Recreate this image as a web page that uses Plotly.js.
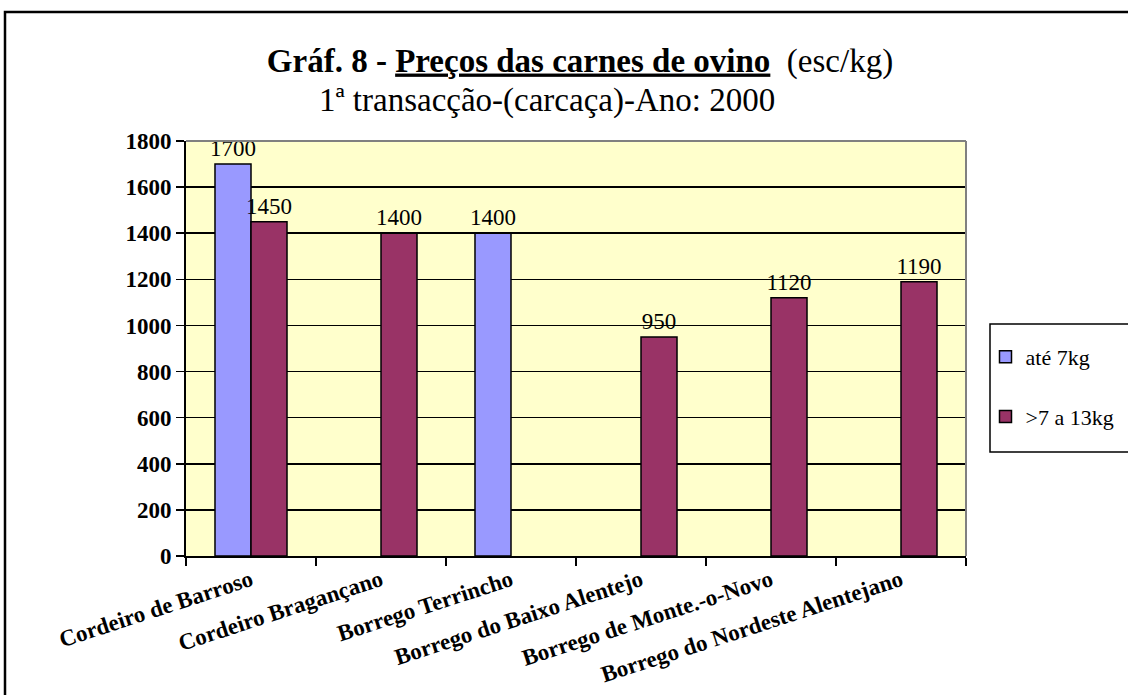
<script src="https://cdn.plot.ly/plotly-3.0.1.min.js"></script>
<style>
  body { margin: 0; background: #fff; }
  #chart { width: 1128px; height: 695px; }
</style>
<div id="chart"></div>
<script>
// values (esc/kg)
const categories = [
  "Cordeiro de Barroso",
  "Cordeiro Bragançano",
  "Borrego Terrincho",
  "Borrego do Baixo Alentejo",
  "Borrego de Monte.-o-Novo",
  "Borrego do Nordeste Alentejano"
];
const ate7kg = [1700, null, 1400, null, null, null];
const de7a13kg = [1450, 1400, null, 950, 1120, 1190];
const seriesNames = ["até 7kg", ">7 a 13kg"];
const yTicks = [0, 200, 400, 600, 800, 1000, 1200, 1400, 1600, 1800];

const serif = 'Liberation Serif, Times New Roman, serif';

function barTrace(name, values, color, group) {
  return {
    type: 'bar',
    name: name,
    x: categories,
    y: values,
    legendgroup: group,
    marker: { color: color, line: { color: '#000', width: 1.5 } },
    text: values.map(v => v === null ? '' : String(v)),
    textposition: 'outside',
    constraintext: 'none',
    textfont: { family: serif, size: 23, color: '#000' },
    cliponaxis: false,
    hoverinfo: 'x+y'
  };
}

const traces = [
  barTrace(seriesNames[0], ate7kg, '#9999FF', 'a'),
  barTrace(seriesNames[1], de7a13kg, '#993366', 'b')
];

const layout = {
  width: 1128,
  height: 695,
  margin: { l: 186, r: 162, t: 141, b: 139, autoexpand: false },
  paper_bgcolor: '#ffffff',
  plot_bgcolor: '#FFFFCC',
  font: { family: serif, color: '#000' },
  bargap: 0.446,
  bargroupgap: 0,
  title: {
    text: '<b>Gráf. 8 - <u>Preços das carnes de ovino</u></b>  (esc/kg)',
    font: { family: serif, size: 33, color: '#000' },
    x: (580 - 186) / 780, xref: 'paper', xanchor: 'center',
    y: 1 - 60 / 695, yref: 'container', yanchor: 'middle'
  },
  annotations: [{
    text: '1ª transacção-(carcaça)-Ano: 2000',
    xref: 'paper', yref: 'paper',
    x: (547 - 186) / 780, y: (556 - 100) / 415,
    xanchor: 'center', yanchor: 'middle',
    showarrow: false,
    font: { family: serif, size: 33, color: '#000' }
  }],
  xaxis: {
    type: 'category',
    tickson: 'boundaries',
    ticks: 'outside',
    ticklen: 8,
    tickwidth: 1.5,
    tickcolor: '#000',
    tickangle: -18,
    tickfont: { family: serif, size: 23, weight: 'bold', color: '#000' },
    showline: true,
    linecolor: '#000',
    linewidth: 2,
    showgrid: false,
    fixedrange: true
  },
  yaxis: {
    range: [0, 1800],
    tickvals: yTicks,
    ticks: 'outside',
    ticklen: 8,
    tickwidth: 1.5,
    tickcolor: '#000',
    tickfont: { family: serif, size: 23, weight: 'bold', color: '#000' },
    showline: true,
    linecolor: '#000',
    linewidth: 2,
    showgrid: true,
    gridcolor: '#000',
    gridwidth: 1.5,
    zeroline: false,
    fixedrange: true
  },
  legend: {
    x: 1.025, xanchor: 'left',
    y: 0.53, yanchor: 'top',
    traceorder: 'grouped',
    tracegroupgap: 28,
    bgcolor: 'rgba(0,0,0,0)',
    borderwidth: 0,
    font: { family: serif, size: 22, color: '#000' }
  },
  shapes: [
    // grey top and right edges of the plot area
    { type: 'line', xref: 'paper', yref: 'paper', x0: 0, x1: 1, y0: 1, y1: 1,
      line: { color: '#808080', width: 2 } },
    { type: 'line', xref: 'paper', yref: 'paper', x0: 1, x1: 1, y0: 0, y1: 1,
      line: { color: '#808080', width: 2 } },
    // legend box
    { type: 'rect', xref: 'paper', yref: 'paper',
      x0: (990 - 186) / 780, x1: (1135 - 186) / 780,
      y0: (556 - 452) / 415, y1: (556 - 324) / 415,
      line: { color: '#000', width: 1.5 } },
    // outer chart border
    { type: 'rect', xref: 'paper', yref: 'paper',
      x0: (5 - 186) / 780, x1: (1140 - 186) / 780,
      y0: (556 - 710) / 415, y1: (556 - 12) / 415,
      line: { color: '#000', width: 2.5 } }
  ]
};

Plotly.newPlot('chart', traces, layout, { displayModeBar: false, staticPlot: true });
</script>
